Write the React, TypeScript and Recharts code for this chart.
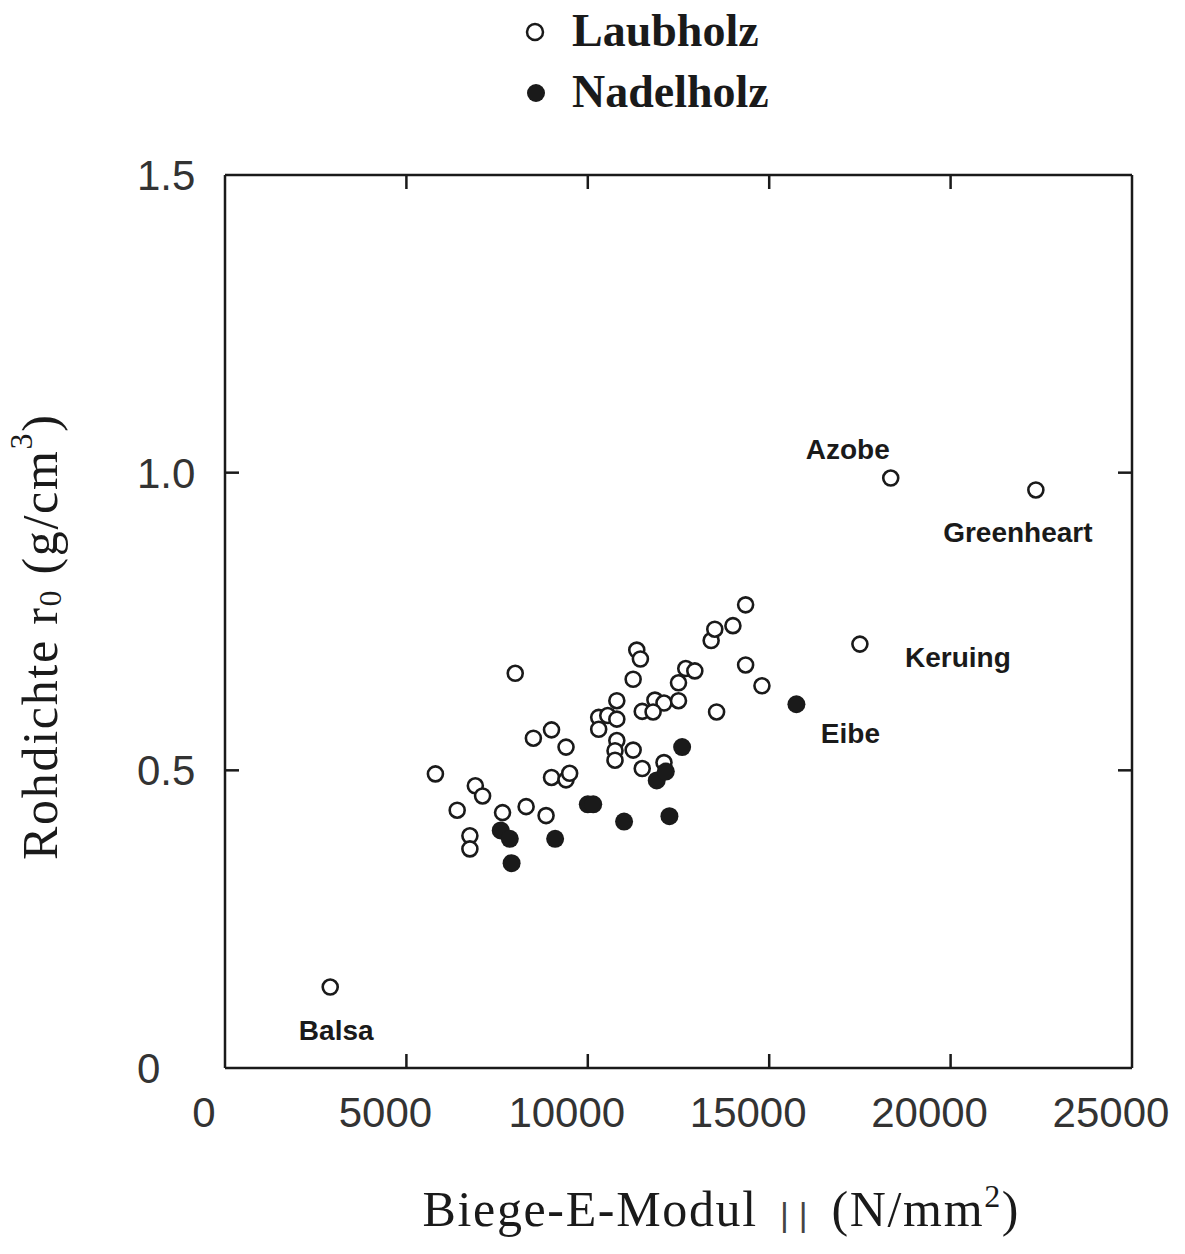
import { ScatterChart, Scatter, XAxis, YAxis, Legend, Label } from 'recharts';

// Laubholz (hardwoods) — bending modulus E (N/mm²) vs. density (g/cm³)
const laubholz = [
  { e: 2900, rho: 0.136, name: 'Balsa' },
  { e: 5800, rho: 0.494 },
  { e: 6900, rho: 0.474 },
  { e: 7100, rho: 0.457 },
  { e: 6400, rho: 0.433 },
  { e: 6750, rho: 0.39 },
  { e: 6750, rho: 0.368 },
  { e: 7650, rho: 0.429 },
  { e: 8300, rho: 0.439 },
  { e: 8850, rho: 0.424 },
  { e: 8000, rho: 0.663 },
  { e: 8500, rho: 0.554 },
  { e: 9000, rho: 0.568 },
  { e: 9400, rho: 0.539 },
  { e: 9000, rho: 0.488 },
  { e: 9400, rho: 0.484 },
  { e: 9500, rho: 0.495 },
  { e: 10300, rho: 0.589 },
  { e: 10300, rho: 0.569 },
  { e: 10550, rho: 0.592 },
  { e: 10800, rho: 0.617 },
  { e: 10800, rho: 0.586 },
  { e: 10800, rho: 0.55 },
  { e: 10750, rho: 0.533 },
  { e: 10750, rho: 0.517 },
  { e: 11250, rho: 0.534 },
  { e: 11500, rho: 0.503 },
  { e: 11250, rho: 0.653 },
  { e: 11350, rho: 0.702 },
  { e: 11450, rho: 0.687 },
  { e: 11500, rho: 0.599 },
  { e: 11850, rho: 0.618 },
  { e: 12100, rho: 0.613 },
  { e: 11800, rho: 0.598 },
  { e: 12500, rho: 0.617 },
  { e: 12500, rho: 0.647 },
  { e: 12700, rho: 0.671 },
  { e: 12950, rho: 0.667 },
  { e: 12100, rho: 0.513 },
  { e: 13400, rho: 0.718 },
  { e: 13500, rho: 0.737 },
  { e: 14000, rho: 0.743 },
  { e: 14350, rho: 0.778 },
  { e: 14350, rho: 0.677 },
  { e: 14800, rho: 0.642 },
  { e: 13550, rho: 0.598 },
  { e: 17500, rho: 0.712, name: 'Keruing' },
  { e: 18350, rho: 0.991, name: 'Azobe' },
  { e: 22350, rho: 0.971, name: 'Greenheart' },
];

// Nadelholz (softwoods)
const nadelholz = [
  { e: 7600, rho: 0.399 },
  { e: 7850, rho: 0.385 },
  { e: 7900, rho: 0.344 },
  { e: 9100, rho: 0.385 },
  { e: 10000, rho: 0.443 },
  { e: 10150, rho: 0.443 },
  { e: 11000, rho: 0.414 },
  { e: 12250, rho: 0.423 },
  { e: 11900, rho: 0.483 },
  { e: 12150, rho: 0.498 },
  { e: 12600, rho: 0.539 },
  { e: 15750, rho: 0.611, name: 'Eibe' },
];

const xTicks = [0, 5000, 10000, 15000, 20000, 25000];
const yTicks = [0, 0.5, 1.0, 1.5];
const yTickLabels = ['0', '0.5', '1.0', '1.5'];

// pixel offset of each species label relative to its marker
const labelOffset: Record<string, [number, number]> = {
  Balsa: [6, 43],
  Keruing: [98, 13],
  Azobe: [-43, -29],
  Greenheart: [-18, 43],
  Eibe: [54, 29],
};

const INK = '#1a1a1a';
const SANS = '"Liberation Sans", Arial, Helvetica, sans-serif';
const SERIF = '"Liberation Serif", "Times New Roman", serif';
const TICK_LEN = 14;
const TICK_FONT = 42;

function SpeciesLabel({ cx, cy, name }: { cx: number; cy: number; name?: string }) {
  if (!name || !labelOffset[name]) return null;
  const [dx, dy] = labelOffset[name];
  return (
    <text
      x={cx + dx}
      y={cy + dy}
      textAnchor="middle"
      dominantBaseline="central"
      fontFamily={SANS}
      fontWeight={700}
      fontSize={28}
      fill={INK}
    >
      {name}
    </text>
  );
}

const OpenDot = (props: any) => (
  <g>
    <circle cx={props.cx} cy={props.cy} r={7.5} fill="#fff" stroke={INK} strokeWidth={2.6} />
    <SpeciesLabel cx={props.cx} cy={props.cy} name={props.payload?.name} />
  </g>
);

const FilledDot = (props: any) => (
  <g>
    <circle cx={props.cx} cy={props.cy} r={9} fill={INK} />
    <SpeciesLabel cx={props.cx} cy={props.cy} name={props.payload?.name} />
  </g>
);

const BottomTick = (props: any) => {
  const { x, y, payload } = props;
  const v = payload.value;
  const inner = v > 0 && v < 25000;
  return (
    <g>
      {inner && <line x1={x} x2={x} y1={y} y2={y - TICK_LEN} stroke={INK} strokeWidth={2.5} />}
      <text x={x - 21} y={y + 59} textAnchor="middle" fontFamily={SANS} fontSize={TICK_FONT} fill="#333">
        {v}
      </text>
    </g>
  );
};

const TopTick = (props: any) => {
  const { x, y, payload } = props;
  const v = payload.value;
  if (!(v > 0 && v < 25000)) return <g />;
  return <line x1={x} x2={x} y1={y} y2={y + TICK_LEN} stroke={INK} strokeWidth={2.5} />;
};

const LeftTick = (props: any) => {
  const { x, y, payload, index } = props;
  const v = payload.value;
  const inner = v > 0 && v < 1.5;
  return (
    <g>
      {inner && <line x1={x} x2={x + TICK_LEN} y1={y} y2={y} stroke={INK} strokeWidth={2.5} />}
      <text x={x - 88} y={y + 15} textAnchor="start" fontFamily={SANS} fontSize={TICK_FONT} fill="#333">
        {yTickLabels[index] ?? String(v)}
      </text>
    </g>
  );
};

const RightTick = (props: any) => {
  const { x, y, payload } = props;
  const v = payload.value;
  if (!(v > 0 && v < 1.5)) return <g />;
  return <line x1={x} x2={x - TICK_LEN} y1={y} y2={y} stroke={INK} strokeWidth={2.5} />;
};

const LegendBox = (props: any) => {
  const items = props.payload ?? [];
  return (
    <svg width={1185} height={130}>
      {items.map((item: any, i: number) => {
        const cy = 32 + i * 61;
        const filled = item.value === 'Nadelholz';
        return (
          <g key={item.value}>
            {filled ? (
              <circle cx={536} cy={cy} r={9} fill={INK} />
            ) : (
              <circle cx={535} cy={cy} r={8} fill="#fff" stroke={INK} strokeWidth={2.5} />
            )}
            <text x={572} y={cy + 14} fontFamily={SERIF} fontWeight={700} fontSize={46} fill={INK}>
              {item.value}
            </text>
          </g>
        );
      })}
    </svg>
  );
};

const XTitle = (props: any) => {
  const vb = props.viewBox;
  const cx = vb.x + vb.width / 2 + 42;
  return (
    <text
      x={cx}
      y={1226}
      textAnchor="middle"
      fontFamily={SERIF}
      fontSize={50}
      fill={INK}
      textLength={596}
      lengthAdjust="spacing"
    >
      Biege-E-Modul
      <tspan fontFamily={SANS} fontSize={34} fill="#444">{'\u00A0\u00A0|\u2009|\u00A0\u00A0'}</tspan>
      (N/mm
      <tspan fontSize={32} dy={-19}>2</tspan>
      <tspan dy={19}>)</tspan>
    </text>
  );
};

const YTitle = (props: any) => {
  const vb = props.viewBox;
  const cy = vb.y + vb.height / 2 + 16;
  const cx = 40;
  return (
    <text
      x={cx}
      y={cy}
      transform={`rotate(-90 ${cx} ${cy})`}
      textAnchor="middle"
      dominantBaseline="central"
      fontFamily={SERIF}
      fontSize={50}
      fill={INK}
      textLength={445}
      lengthAdjust="spacing"
    >
      Rohdichte r
      <tspan fontSize={32} dy={10}>0</tspan>
      <tspan dy={-10}>{'\u00A0(g/cm'}</tspan>
      <tspan fontSize={32} dy={-19}>3</tspan>
      <tspan dy={19}>)</tspan>
    </text>
  );
};

export default function App() {
  return (
    <div style={{ position: 'absolute', left: 0, top: 0, background: '#fff' }}>
      <ScatterChart
        width={1185}
        height={1254}
        margin={{ top: 174, right: 52, bottom: 106, left: 125 }}
      >
        <XAxis
          dataKey="e"
          type="number"
          domain={[0, 25000]}
          ticks={xTicks}
          interval={0}
          height={80}
          tickSize={0}
          tickMargin={0}
          tickLine={false}
          axisLine={{ stroke: INK, strokeWidth: 2.5 }}
          tick={(p: any) => <BottomTick {...p} />}
        >
          <Label content={(p: any) => <XTitle {...p} />} />
        </XAxis>
        <XAxis
          xAxisId="top"
          orientation="top"
          dataKey="e"
          type="number"
          domain={[0, 25000]}
          allowDataOverflow
          ticks={xTicks}
          interval={0}
          height={1}
          tickSize={0}
          tickMargin={0}
          tickLine={false}
          axisLine={{ stroke: INK, strokeWidth: 2.5 }}
          tick={(p: any) => <TopTick {...p} />}
        />
        <YAxis
          dataKey="rho"
          type="number"
          domain={[0, 1.5]}
          ticks={yTicks}
          interval={0}
          width={100}
          tickSize={0}
          tickMargin={0}
          tickLine={false}
          axisLine={{ stroke: INK, strokeWidth: 2.5 }}
          tick={(p: any) => <LeftTick {...p} />}
        >
          <Label content={(p: any) => <YTitle {...p} />} />
        </YAxis>
        <YAxis
          yAxisId="right"
          orientation="right"
          dataKey="rho"
          type="number"
          domain={[0, 1.5]}
          allowDataOverflow
          ticks={yTicks}
          interval={0}
          width={1}
          tickSize={0}
          tickMargin={0}
          tickLine={false}
          axisLine={{ stroke: INK, strokeWidth: 2.5 }}
          tick={(p: any) => <RightTick {...p} />}
        />
        <Legend
          layout="vertical"
          align="center"
          verticalAlign="middle"
          wrapperStyle={{ position: 'absolute', top: 0, left: 0, width: 1185, height: 130 }}
          content={(p: any) => <LegendBox {...p} />}
        />
        <Scatter
          name="Laubholz"
          data={laubholz}
          fill="#fff"
          stroke={INK}
          shape={(p: any) => <OpenDot {...p} />}
          isAnimationActive={false}
        />
        <Scatter
          name="Nadelholz"
          data={nadelholz}
          fill={INK}
          shape={(p: any) => <FilledDot {...p} />}
          isAnimationActive={false}
        />
        {/* invisible series so the top/right frame axes share the data scales */}
        <Scatter
          data={laubholz}
          xAxisId="top"
          yAxisId="right"
          legendType="none"
          shape={() => <g />}
          isAnimationActive={false}
        />
      </ScatterChart>
    </div>
  );
}
